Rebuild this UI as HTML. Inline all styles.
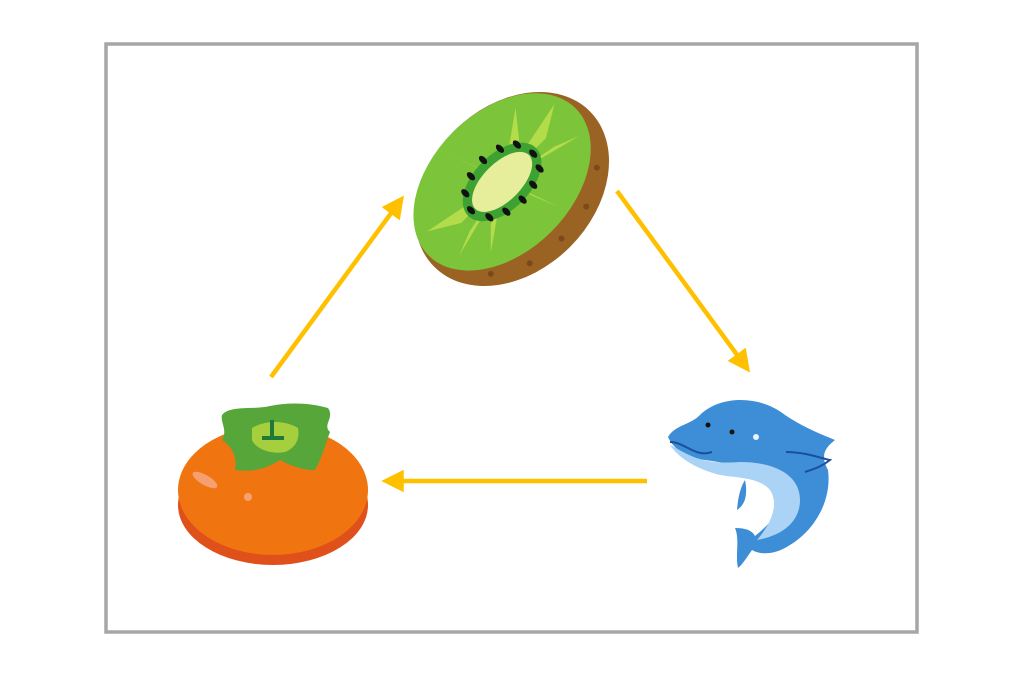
<!DOCTYPE html>
<html><head><meta charset="utf-8"><style>html,body{margin:0;padding:0;background:#fff}</style></head>
<body>
<svg width="1024" height="683" viewBox="0 0 1024 683" xmlns="http://www.w3.org/2000/svg">
<rect x="106" y="44" width="811" height="588" fill="#fff" stroke="#a6a6a6" stroke-width="3.5"/>
<defs>
<marker id="ah" markerWidth="5" markerHeight="5" refX="3.5" refY="2.5" orient="auto" markerUnits="strokeWidth">
<path d="M0,0 L5,2.5 L0,5 z" fill="#FFC000"/></marker>
</defs>
<g stroke="#FFC000" stroke-width="4.5" fill="none">
<line x1="271" y1="377" x2="400" y2="201" marker-end="url(#ah)"/>
<line x1="617" y1="191" x2="746" y2="367" marker-end="url(#ah)"/>
<line x1="647" y1="481" x2="388" y2="481" marker-end="url(#ah)"/>
</g>
<!-- kiwi -->
<g transform="translate(512,189) rotate(-45)">
<ellipse cx="0" cy="0" rx="110" ry="82" fill="#9a6324"/>
<ellipse cx="-2" cy="-12" rx="104" ry="70" fill="#7cc43a"/>
<g fill="#b3dc4a">
<path d="M0,-12 L-90,-30 L-60,-12 z"/><path d="M0,-12 L90,-30 L60,-12 z"/>
<path d="M0,-12 L-60,30 L-40,10 z"/><path d="M0,-12 L60,-55 L40,-30 z"/>
<path d="M0,-12 L-20,-70 L-10,-40 z"/><path d="M0,-12 L20,45 L10,20 z"/>
<path d="M0,-12 L-85,10 L-60,0 z"/><path d="M0,-12 L85,10 L60,0 z"/>
</g>
<ellipse cx="-2" cy="-12" rx="48" ry="28" fill="#3ea233"/>
<ellipse cx="-2" cy="-12" rx="38" ry="19" fill="#e6ee9c"/>
<g fill="#111">
<ellipse cx="-44" cy="-14" rx="3" ry="5"/><ellipse cx="40" cy="-10" rx="3" ry="5"/>
<ellipse cx="-36" cy="-30" rx="3" ry="5"/><ellipse cx="34" cy="5" rx="3" ry="5"/>
<ellipse cx="-20" cy="-38" rx="3" ry="5"/><ellipse cx="18" cy="12" rx="3" ry="5"/>
<ellipse cx="0" cy="-41" rx="3" ry="5"/><ellipse cx="0" cy="15" rx="3" ry="5"/>
<ellipse cx="20" cy="-37" rx="3" ry="5"/><ellipse cx="-20" cy="12" rx="3" ry="5"/>
<ellipse cx="35" cy="-28" rx="3" ry="5"/><ellipse cx="-36" cy="4" rx="3" ry="5"/>
</g>
<g fill="#7a4a1c"><circle cx="-40" cy="65" r="3"/><circle cx="0" cy="70" r="3"/><circle cx="40" cy="65" r="3"/><circle cx="75" cy="45" r="3"/><circle cx="-75" cy="45" r="3"/></g>
</g>
<!-- dolphin -->
<g>
<path d="M668,437 C675,425 690,425 700,415 C720,395 760,395 785,415 C800,425 815,432 835,440 C825,448 820,455 828,470 C832,500 815,530 790,545 C775,555 760,555 752,550 C745,560 742,565 738,568 C735,555 740,540 735,528 C745,528 752,530 755,536 C775,520 790,500 780,485 C765,470 740,465 705,460 C690,458 675,452 668,437 z" fill="#3d8ed6"/>
<path d="M670,445 C690,455 700,465 740,462 C775,462 800,475 800,500 C800,520 785,535 757,540 C770,525 780,505 770,490 C760,478 740,478 720,475 C700,470 680,460 670,445 z" fill="#aad3f5"/>
<path d="M745,480 C748,495 745,505 737,510 C738,498 740,488 745,480 z" fill="#3d8ed6"/>
<path d="M670,442 C685,442 695,458 712,452" stroke="#1a4f9a" stroke-width="2" fill="none"/>
<path d="M786,452 C805,452 820,458 830,460 C820,468 810,470 805,472" stroke="#1a4f9a" stroke-width="2" fill="none"/>
<circle cx="708" cy="425" r="2.5" fill="#111"/><circle cx="732" cy="432" r="2.5" fill="#111"/>
<circle cx="756" cy="437" r="3" fill="#e8f4ff"/>
</g>
<!-- persimmon -->
<g>
<ellipse cx="273" cy="505" rx="95" ry="60" fill="#e0501a"/>
<ellipse cx="273" cy="490" rx="95" ry="65" fill="#f07510"/>
<ellipse cx="275" cy="440" rx="50" ry="14" fill="#d84a14"/>
<path d="M222,415 C230,405 255,410 270,406 C290,402 310,403 328,408 C335,418 322,425 330,432 C325,445 322,458 315,470 C305,470 295,468 280,460 C265,470 250,472 235,470 C238,455 230,445 222,440 C228,430 220,422 222,415 z" fill="#56a63a"/>
<path d="M252,428 C265,420 285,420 298,428 C300,440 295,448 285,452 C270,455 255,448 252,440 z" fill="#a6cf3e"/>
<path d="M272,420 L272,438 M262,438 L284,438" stroke="#1f7a3a" stroke-width="4" fill="none"/>
<ellipse cx="205" cy="480" rx="14" ry="5" transform="rotate(30 205 480)" fill="#f6a070"/>
<circle cx="248" cy="497" r="4" fill="#f6a070"/>
</g>
</svg>
</body></html>
